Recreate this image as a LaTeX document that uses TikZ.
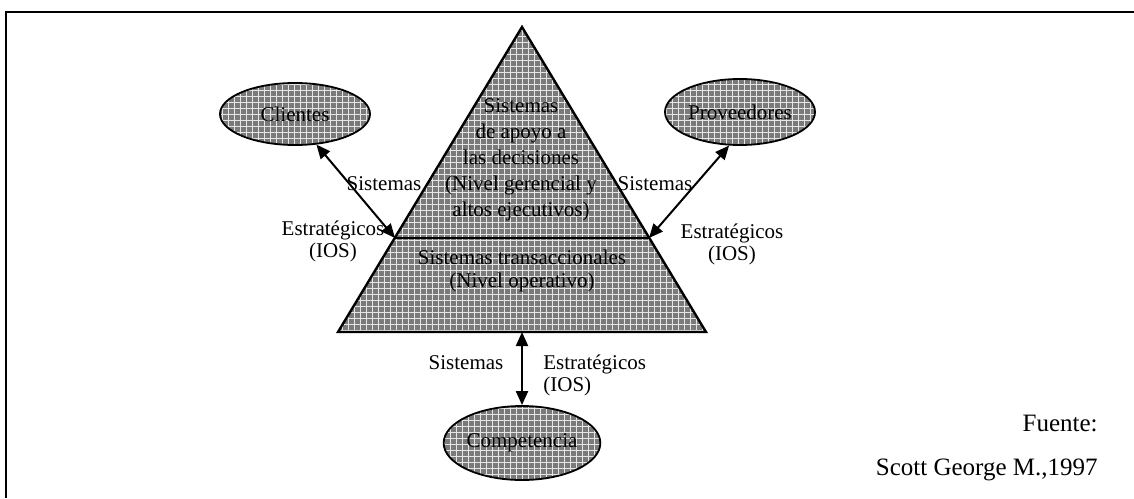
\documentclass[tikz,border=0pt]{standalone}
\usepackage{fontspec}
\setmainfont{Liberation Serif}
\usetikzlibrary{shapes.geometric, arrows.meta, patterns}
\tikzstyle{shade} = [preaction={fill=black!52}, pattern=grid, pattern color=white!90!black]
\tikzstyle{ellip} = [ellipse, draw=black, line width=0.9pt, shade, minimum width=75pt, minimum height=31pt, inner sep=0pt, font=\fontsize{10.5}{12}\selectfont]
\tikzstyle{lbl} = [align=center, inner sep=0pt, font=\fontsize{10.5}{11}\selectfont]
\tikzstyle{src} = [anchor=east, inner sep=0pt, font=\fontsize{12.5}{14}\selectfont]
\tikzstyle{arrow} = [line width=1pt,<->,>={Triangle[length=7pt,width=6pt]}]

\begin{document}
\begin{tikzpicture}[x=0.5pt, y=-0.5pt]
    \useasboundingbox (0,0) rectangle (1134,498);
    % frame (top and left only)
    \draw [line width=1pt] (6,498) -- (6,12) -- (1134,12);

    % pyramid
    \coordinate (apex) at (522,27);
    \coordinate (bl) at (338,332);
    \coordinate (br) at (706,332);
    \coordinate (divL) at (395,238);
    \coordinate (divR) at (649,238);
    \coordinate (base) at (522,332);
    \draw [line width=1.2pt, shade] (apex) -- (br) -- (bl) -- cycle;
    \draw [line width=1.2pt] (divL) -- (divR);
    \node (dss) [lbl, font=\fontsize{10.5}{13}\selectfont] at (521,160) {Sistemas\\de apoyo a\\las decisiones\\(Nivel gerencial y\\altos ejecutivos)};
    \node (tps) [lbl, font=\fontsize{10.5}{11.5}\selectfont] at (522,271) {Sistemas transaccionales\\(Nivel operativo)};

    % actors
    \node (clientes) [ellip] at (295,114) {Clientes};
    \node (prov) [ellip, minimum height=33pt] at (740,112) {Proveedores};
    \node (comp) [ellip, minimum height=37pt] at (522,443) {Competencia};

    % links
    \draw [arrow] (clientes.-55) -- (divL);
    \draw [arrow] (divR) -- (prov.-108);
    \draw [arrow] (base) -- (comp.north);

    \node (sisL) [lbl] at (384,184) {Sistemas};
    \node (estL) [lbl] at (333,241) {Estratégicos\\(IOS)};
    \node (sisR) [lbl] at (655,184) {Sistemas};
    \node (estR) [lbl] at (732,244) {Estratégicos\\(IOS)};
    \node (sisB) [lbl] at (466,363) {Sistemas};
    \node (estB) [lbl, anchor=west, align=left] at (543,375) {Estratégicos\\(IOS)};

    % source
    \node (fuente) [src] at (1098,423) {Fuente:};
    \node (autor) [src] at (1098,470) {Scott George M.,1997};
\end{tikzpicture}
\end{document}
